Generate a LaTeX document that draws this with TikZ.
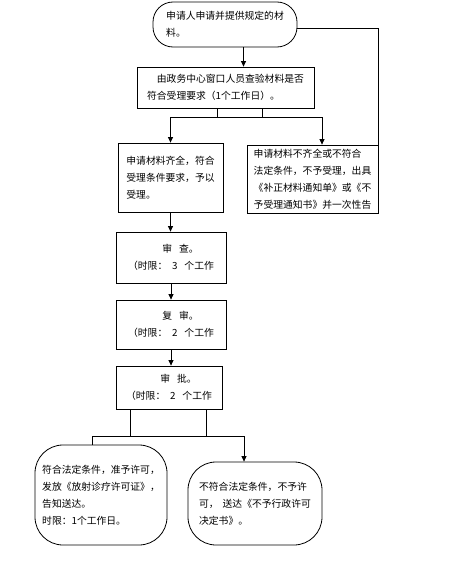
\documentclass[tikz,border=0pt]{standalone}
\usepackage{fontspec}
\newfontfamily\cjk{Noto Sans CJK SC}
\usetikzlibrary{arrows.meta,positioning}

\begin{document}
\begin{tikzpicture}[
    x=1pt, y=-1pt,
    font=\cjk\fontsize{9.8}{17}\selectfont,
    % Boxes
    pill/.style={rectangle, rounded corners=20pt, draw=black, line width=0.8pt, align=left},
    stepbox/.style={rectangle, draw=black, line width=0.8pt, align=left},
    result/.style={rectangle, rounded corners=28pt, draw=black, line width=0.8pt, align=left},
    % Connectors
    link/.style={draw=black, line width=0.8pt},
    arr/.style={link, -{Triangle[length=5.5pt,width=5pt]}}
]
\useasboundingbox (0,0) rectangle (472,562);

% Application
\node[pill, minimum width=144, minimum height=45] (apply) at (225,24.5) {申请人申请并提供规定的材\\料。};

% Window check
\node[stepbox, minimum width=177, minimum height=41] (check) at (225.5,87.5) {\hspace*{1em}由政务中心窗口人员查验材料是否\\符合受理要求（1个工作日）。};

% Accept / reject
\node[stepbox, minimum width=105, minimum height=69] (accept) at (170.5,177.5) {申请材料齐全，符合\\受理条件要求，予以\\受理。};
\node[stepbox, minimum width=131, minimum height=68] (reject) at (312.5,179) {申请材料不齐全或不符合\\法定条件，不予受理，出具\\《补正材料通知单》或《不\\予受理通知书》并一次性告};

% Review steps
\node[stepbox, minimum width=110, minimum height=51] (review) at (171,257.5) {\hspace*{3.5em}审\hspace{0.7em}查。\\（时限：\hspace{0.5em}3\hspace{0.7em}个工作};
\node[stepbox, minimum width=110, minimum height=49] (reexam) at (171,324.5) {\hspace*{3.5em}复\hspace{0.7em}审。\\（时限：\hspace{0.5em}2\hspace{0.7em}个工作};
\node[stepbox, minimum width=106, minimum height=43] (approve) at (169,387.5) {\hspace*{3.5em}审\hspace{0.7em}批。\\（时限：\hspace{0.5em}2\hspace{0.7em}个工作};

% Decisions
\node[result, minimum width=132, minimum height=100] (grant) at (101,495) {符合法定条件，准予许可，\\发放《放射诊疗许可证》，\\告知送达。\\时限：1个工作日。};
\node[result, minimum width=134, minimum height=83] (deny) at (255,503.5) {不符合法定条件，不予许\\可，\hspace{0.4em}送达《不予行政许可\\决定书》。};

% Connections
\draw[arr] ([xshift=18.5]apply.south) -- ([xshift=18.5]apply.south |- check.north);
\draw[link] ([yshift=-4]apply.east) -| (reject.north east);
\draw[arr] ([xshift=36.5]check.south) -- ++(0,9) -| (accept.north);
\draw[arr] ([xshift=-8.5]check.south) -- ++(0,9) -| ([xshift=9.5]reject.north);
\draw[arr] (accept.south) -- (accept.south |- review.north);
\draw[arr] (review.south) -- (reexam.north);
\draw[arr] (reexam.south) -- (reexam.south |- approve.north);
\draw[link] ([xshift=37]approve.south) -- ++(0,27) -| ([xshift=-9]grant.north);
\draw[arr] ([xshift=-39]approve.south) -- ++(0,27) -| ([xshift=-11]deny.north);
\end{tikzpicture}
\end{document}
